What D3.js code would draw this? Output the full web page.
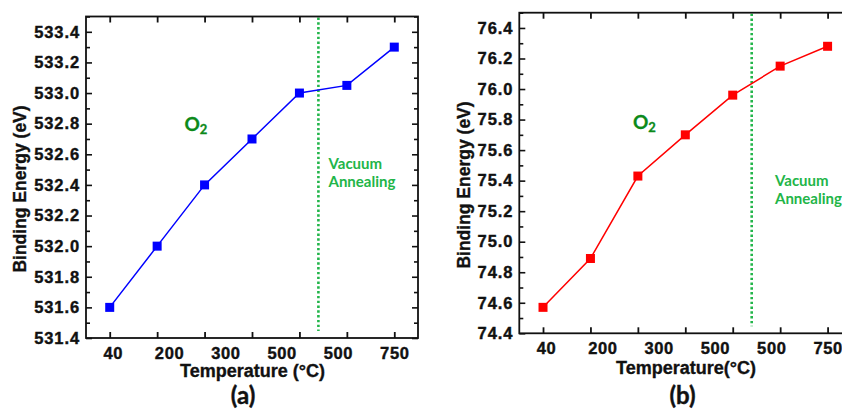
<!DOCTYPE html>
<html>
<head>
<meta charset="utf-8">
<script src="https://cdn.jsdelivr.net/npm/d3@7"></script>
<style>
  html, body { margin: 0; padding: 0; background: #fff; }
  svg { display: block; }
  .tick text { font-family: "Liberation Sans", Arial, sans-serif; font-weight: bold; font-size: 16.5px; fill: #111; stroke: #111; stroke-width: 0.4px; }
</style>
</head>
<body>
<svg id="chart" width="842" height="410"></svg>
<script>
// ---- data ----
const categories = ["40", "200", "300", "400", "500", "500 (vacuum)", "750"];
const tickLabels = ["40", "200", "300", "500", "500", "750"];
const seriesA = [531.6, 532.0, 532.4, 532.7, 533.0, 533.05, 533.3];
const seriesB = [74.57, 74.89, 75.43, 75.70, 75.96, 76.15, 76.28];
const yTicksA = [531.4, 531.6, 531.8, 532.0, 532.2, 532.4, 532.6, 532.8, 533.0, 533.2, 533.4];
const yTicksB = [74.4, 74.6, 74.8, 75.0, 75.2, 75.4, 75.6, 75.8, 76.0, 76.2, 76.4];
const vacuumIndex = 4.4; // position of the vacuum-annealing divider between categories

const svg = d3.select("#chart");

const panels = [
  { data: seriesA, yTicks: yTicksA, yDomain: [531.4, 533.5], color: "#0000FF",
    left: 86, right: 418, top: 16.5, bottom: 338,
    xTitle: "Temperature (°C)", xTitleX: 252.5, xTitleY: 377,
    yTitleX: 26, yTitleY: 189, label: "(a)", labelX: 243,
    o2X: 184.5, o2Y: 130.5, vacX: 328.5, vacY: 168.5 },
  { data: seriesB, yTicks: yTicksB, yDomain: [74.4, 76.5], color: "#FF0000",
    left: 519.3, right: 851.3, top: 12.7, bottom: 333.3,
    xTitle: "Temperature(°C)", xTitleX: 686, xTitleY: 373.5,
    yTitleX: 469.5, yTitleY: 185, label: "(b)", labelX: 682.5,
    o2X: 633, o2Y: 128.5, vacX: 775, vacY: 185.5 }
];

panels.forEach(p => {
  const g = svg.append("g");
  const x = d3.scaleLinear().domain([-0.5, categories.length - 0.5]).range([p.left, p.right]);
  const y = d3.scaleLinear().domain(p.yDomain).range([p.bottom, p.top]);
  const xl = d3.scalePoint().domain(d3.range(tickLabels.length)).range([x(0) + 3, x(categories.length - 1)]);

  const minor = d3.range(Math.round(p.yDomain[0] * 10), Math.round(p.yDomain[1] * 10) + 1).map(v => v / 10)
    .filter(v => !p.yTicks.some(t => Math.abs(t - v) < 1e-6));

  // vacuum divider
  g.append("line")
    .attr("x1", x(vacuumIndex)).attr("x2", x(vacuumIndex))
    .attr("y1", p.top + 1).attr("y2", p.bottom - 7)
    .attr("stroke", "#22b54a").attr("stroke-width", 2.6)
    .attr("stroke-dasharray", "2.4,2.4");

  // left axis major
  g.append("g").attr("transform", `translate(${p.left},0)`)
    .call(d3.axisLeft(y).tickValues(p.yTicks).tickSize(-6).tickPadding(6).tickFormat(d3.format(".1f")))
    .call(s => s.select(".domain").remove())
    .call(s => s.selectAll("line").attr("stroke", "#111").attr("stroke-width", 1.6))
    .call(s => s.selectAll("text").attr("letter-spacing", "0.9px"));
  g.append("g").attr("transform", `translate(${p.left},0)`)
    .call(d3.axisLeft(y).tickValues(minor).tickSize(-4).tickFormat(""))
    .call(s => s.select(".domain").remove())
    .call(s => s.selectAll("line").attr("stroke", "#111").attr("stroke-width", 1.6));
  // right axis
  g.append("g").attr("transform", `translate(${p.right},0)`)
    .call(d3.axisRight(y).tickValues(p.yTicks).tickSize(-6).tickFormat(""))
    .call(s => s.select(".domain").remove())
    .call(s => s.selectAll("line").attr("stroke", "#111").attr("stroke-width", 1.6));
  g.append("g").attr("transform", `translate(${p.right},0)`)
    .call(d3.axisRight(y).tickValues(minor).tickSize(-4).tickFormat(""))
    .call(s => s.select(".domain").remove())
    .call(s => s.selectAll("line").attr("stroke", "#111").attr("stroke-width", 1.6));

  // bottom & top ticks
  g.append("g").attr("transform", `translate(0,${p.bottom})`)
    .call(d3.axisBottom(x).tickValues(d3.range(categories.length)).tickSize(-6).tickFormat(""))
    .call(s => s.select(".domain").remove())
    .call(s => s.selectAll("line").attr("stroke", "#111").attr("stroke-width", 1.8));
  g.append("g").attr("transform", `translate(0,${p.top})`)
    .call(d3.axisTop(x).tickValues(d3.range(categories.length)).tickSize(-6).tickFormat(""))
    .call(s => s.select(".domain").remove())
    .call(s => s.selectAll("line").attr("stroke", "#111").attr("stroke-width", 1.8));
  // bottom labels
  g.append("g").attr("transform", `translate(0,${p.bottom})`)
    .call(d3.axisBottom(xl).tickSize(0).tickPadding(9).tickFormat(i => tickLabels[i]))
    .call(s => s.select(".domain").remove())
    .call(s => s.selectAll("text").attr("letter-spacing", "0.6px"));

  // frame
  g.append("rect")
    .attr("x", p.left).attr("y", p.top)
    .attr("width", p.right - p.left).attr("height", p.bottom - p.top)
    .attr("fill", "none").attr("stroke", "#111").attr("stroke-width", 1.8);

  // line + markers
  const line = d3.line().x((d, i) => x(i)).y(d => y(d));
  g.append("path").datum(p.data)
    .attr("d", line).attr("fill", "none")
    .attr("stroke", p.color).attr("stroke-width", 1.5);
  g.selectAll("rect.m").data(p.data).enter().append("rect")
    .attr("class", "m")
    .attr("x", (d, i) => x(i) - 4.5).attr("y", d => y(d) - 4.5)
    .attr("width", 9).attr("height", 9)
    .attr("fill", p.color);

  // titles
  g.append("text")
    .attr("x", p.xTitleX).attr("y", p.xTitleY)
    .attr("text-anchor", "middle")
    .style("font-family", "'Liberation Sans', Arial, sans-serif")
    .style("font-weight", "bold").style("font-size", "18px").attr("fill", "#111")
    .attr("stroke", "#111").attr("stroke-width", 0.35)
    .text(p.xTitle);
  g.append("text")
    .attr("transform", `translate(${p.yTitleX},${p.yTitleY}) rotate(-90)`)
    .attr("text-anchor", "middle")
    .style("font-family", "'Liberation Sans', Arial, sans-serif")
    .style("font-weight", "bold").style("font-size", "17.5px").attr("fill", "#111")
    .attr("stroke", "#111").attr("stroke-width", 0.35)
    .text("Binding Energy (eV)");
  g.append("text")
    .attr("x", p.labelX).attr("y", 404)
    .attr("text-anchor", "middle")
    .style("font-family", "Lato, 'Open Sans', sans-serif")
    .style("font-weight", "bold").style("font-size", "24px").attr("fill", "#111")
    .attr("stroke", "#111").attr("stroke-width", 0.4)
    .text(p.label);

  // O2 annotation
  const o2 = g.append("text")
    .attr("x", p.o2X).attr("y", p.o2Y)
    .style("font-family", "Lato, 'Open Sans', sans-serif")
    .style("font-weight", "bold").style("font-size", "19px").attr("fill", "#0c8a1a")
    .attr("stroke", "#0c8a1a").attr("stroke-width", 0.3);
  o2.append("tspan").text("O");
  o2.append("tspan").attr("dy", 3).style("font-size", "13px").text("2");

  // Vacuum Annealing
  const vac = g.append("text")
    .style("font-family", "Lato, 'Open Sans', sans-serif")
    .style("font-weight", "bold").style("font-size", "15px").attr("fill", "#22b548");
  vac.append("tspan").attr("x", p.vacX).attr("y", p.vacY).text("Vacuum");
  vac.append("tspan").attr("x", p.vacX).attr("y", p.vacY + 18.3).text("Annealing");
});
</script>
</body>
</html>
